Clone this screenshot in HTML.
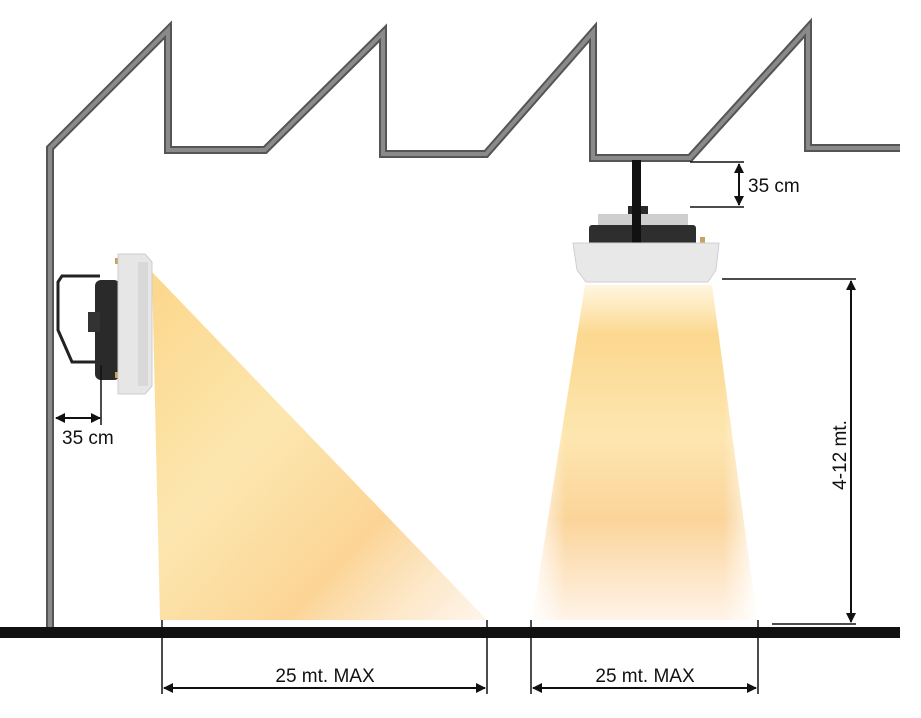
<!DOCTYPE html>
<html><head><style>
html,body{margin:0;padding:0;background:#fff;}
svg{display:block;}
text{font-family:"Liberation Sans",sans-serif;fill:#111;}
</style></head><body>
<svg width="921" height="718" viewBox="0 0 921 718" xmlns="http://www.w3.org/2000/svg">
<defs>
<linearGradient id="g1" x1="0" y1="0" x2="1" y2="1">
<stop offset="0" stop-color="#fbd27e" stop-opacity="0.9"/>
<stop offset="0.4" stop-color="#fce4a6" stop-opacity="0.9"/>
<stop offset="0.7" stop-color="#fbd08a" stop-opacity="0.9"/>
<stop offset="1" stop-color="#fdeedd" stop-opacity="0.6"/>
</linearGradient>
<linearGradient id="g2" x1="0" y1="0" x2="0" y2="1">
<stop offset="0" stop-color="#fff6e0"/>
<stop offset="0.15" stop-color="#fcd88f"/>
<stop offset="0.45" stop-color="#fde6b0"/>
<stop offset="0.7" stop-color="#fbd49a"/>
<stop offset="1" stop-color="#fff3e8"/>
</linearGradient>
<linearGradient id="g3" x1="0" y1="0" x2="1" y2="0">
<stop offset="0" stop-color="#fff" stop-opacity="0.9"/>
<stop offset="0.15" stop-color="#fff" stop-opacity="0"/>
<stop offset="0.85" stop-color="#fff" stop-opacity="0"/>
<stop offset="1" stop-color="#fff" stop-opacity="0.9"/>
</linearGradient>
<marker id="ah" markerWidth="10" markerHeight="10" refX="9" refY="5" orient="auto-start-reverse" markerUnits="userSpaceOnUse">
<path d="M0,0 L10,5 L0,10 Z" fill="#111"/></marker>
</defs>

<!-- beams -->
<polygon points="152,272 160,620 487,620" fill="url(#g1)"/>
<polygon points="585,285 712,285 757,620 532,620" fill="url(#g2)"/>
<polygon points="585,285 712,285 757,620 532,620" fill="url(#g3)"/>

<!-- building outline -->
<polyline points="50,630 50,148 168,30 168,150 265,150 383,33 383,154 486,154 593,32 593,158 690,158 808,28 808,148 900,148" fill="none" stroke="#555" stroke-width="8" stroke-linejoin="miter"/>
<polyline points="50,630 50,148 168,30 168,150 265,150 383,33 383,154 486,154 593,32 593,158 690,158 808,28 808,148 900,148" fill="none" stroke="#8a8a8a" stroke-width="4" stroke-linejoin="miter"/>

<!-- ground -->
<rect x="0" y="627" width="900" height="11" fill="#111"/>

<!-- left heater -->
<path d="M100,276 L62,276 L58,282 L58,330 L72,362 L105,362" fill="none" stroke="#222" stroke-width="3"/>
<rect x="95" y="280" width="25" height="100" rx="6" fill="#2a2a2a"/>
<rect x="88" y="312" width="12" height="20" fill="#333"/>
<rect x="115" y="258" width="8" height="6" fill="#c9a060"/>
<rect x="115" y="372" width="8" height="6" fill="#c9a060"/>
<path d="M118,254 L145,254 L152,262 L152,386 L145,394 L118,394 Z" fill="#e6e6e6" stroke="#ccc"/>
<rect x="138" y="262" width="10" height="124" fill="#d8d8d8"/>

<!-- right heater -->
<rect x="632" y="160" width="9" height="80" fill="#111"/>
<rect x="628" y="206" width="20" height="14" fill="#2a2a2a"/>
<rect x="598" y="214" width="90" height="12" fill="#cfcfcf"/>
<rect x="589" y="225" width="107" height="20" rx="3" fill="#2e2e2e"/>
<rect x="632" y="200" width="9" height="45" fill="#111"/>
<rect x="700" y="237" width="5" height="7" fill="#c9a060"/>
<path d="M573,243 L719,243 L716,270 L708,282 L586,282 L577,270 Z" fill="#e8e8e8" stroke="#d0d0d0"/>

<!-- dimension: left 35 cm -->
<line x1="101" y1="365" x2="101" y2="425" stroke="#111" stroke-width="1.5"/>
<line x1="56" y1="418" x2="100" y2="418" stroke="#111" stroke-width="2" marker-start="url(#ah)" marker-end="url(#ah)"/>
<text x="62" y="444" font-size="19">35 cm</text>

<!-- dimension: top 35 cm -->
<line x1="690" y1="162" x2="744" y2="162" stroke="#111" stroke-width="1.5"/>
<line x1="690" y1="207" x2="744" y2="207" stroke="#111" stroke-width="1.5"/>
<line x1="739" y1="164" x2="739" y2="205" stroke="#111" stroke-width="2" marker-start="url(#ah)" marker-end="url(#ah)"/>
<text x="748" y="192" font-size="19">35 cm</text>

<!-- vertical 4-12 mt -->
<line x1="722" y1="279" x2="856" y2="279" stroke="#111" stroke-width="1.5"/>
<line x1="772" y1="624" x2="856" y2="624" stroke="#111" stroke-width="1.5"/>
<line x1="851" y1="281" x2="851" y2="622" stroke="#111" stroke-width="2" marker-start="url(#ah)" marker-end="url(#ah)"/>
<text transform="translate(846,455) rotate(-90)" font-size="19" text-anchor="middle">4-12 mt.</text>

<!-- bottom dims -->
<line x1="162" y1="620" x2="162" y2="694" stroke="#111" stroke-width="1.5"/>
<line x1="487" y1="620" x2="487" y2="694" stroke="#111" stroke-width="1.5"/>
<line x1="164" y1="688" x2="485" y2="688" stroke="#111" stroke-width="2" marker-start="url(#ah)" marker-end="url(#ah)"/>
<text x="325" y="682" font-size="19" text-anchor="middle">25 mt. MAX</text>

<line x1="531" y1="620" x2="531" y2="694" stroke="#111" stroke-width="1.5"/>
<line x1="758" y1="620" x2="758" y2="694" stroke="#111" stroke-width="1.5"/>
<line x1="533" y1="688" x2="756" y2="688" stroke="#111" stroke-width="2" marker-start="url(#ah)" marker-end="url(#ah)"/>
<text x="645" y="682" font-size="19" text-anchor="middle">25 mt. MAX</text>
</svg>
</body></html>
